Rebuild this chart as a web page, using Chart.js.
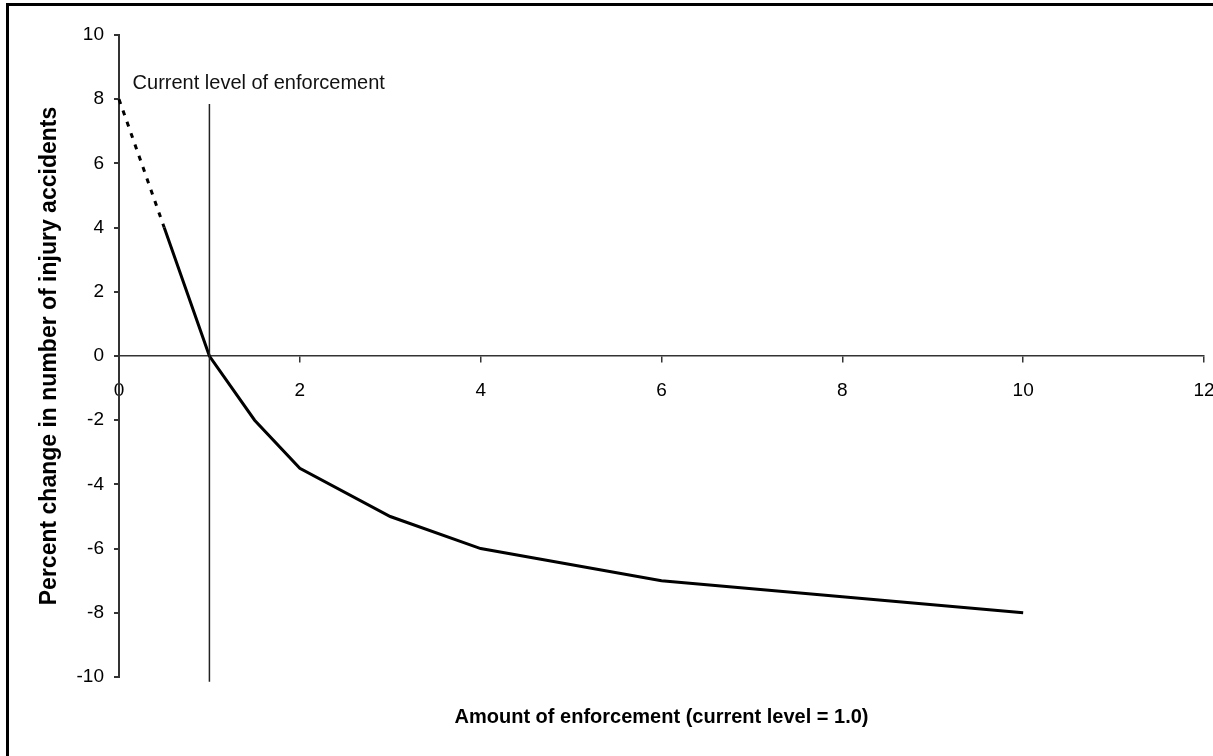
<!DOCTYPE html>
<html>
<head>
<meta charset="utf-8">
<script src="https://cdn.jsdelivr.net/npm/chart.js@4/dist/chart.umd.min.js"></script>
<style>
  html, body { margin: 0; padding: 0; background: #fff; }
  #wrap { position: relative; width: 1213px; height: 756px; overflow: hidden; }
  #chart { position: absolute; left: 0; top: 0; }
  #frame { position: absolute; left: 6px; top: 3px; right: -10px; bottom: -10px;
           border-top: 3px solid #000; border-left: 3px solid #000; pointer-events: none; }
</style>
</head>
<body>
<div id="wrap">
  <canvas id="chart" width="1213" height="756"></canvas>
  <div id="frame"></div>
</div>
<script>
// extrapolated part of the curve (dashed)
const dashX = [0, 0.5];
const dashY = [8, 4];
// estimated curve (solid)
const curveX = [0.5, 1, 1.5, 2, 3, 4, 6, 8, 10];
const curveY = [4, 0, -2, -3.5, -5, -6, -7, -7.5, -8];
// marker line for current level of enforcement
const markerX = [1, 1];
const markerY = [7.85, -10.15];
const markerLabel = 'Current level of enforcement';
const markerLabelAt = { x: 0.15, y: 8.5 };

const xTitle = 'Amount of enforcement (current level = 1.0)';
const yTitle = 'Percent change in number of injury accidents';

const FONT = "'Liberation Sans', Arial, sans-serif";

const toPoints = (xs, ys) => xs.map((x, i) => ({ x: x, y: ys[i] }));

// draws the text next to the marker line
const markerText = {
  id: 'markerText',
  afterDatasetsDraw(chart) {
    const ctx = chart.ctx;
    const xs = chart.scales.x, ys = chart.scales.y;
    ctx.save();
    ctx.font = '20px ' + FONT;
    ctx.fillStyle = '#111';
    ctx.textAlign = 'left';
    ctx.textBaseline = 'middle';
    ctx.fillText(markerLabel, xs.getPixelForValue(markerLabelAt.x), ys.getPixelForValue(markerLabelAt.y));
    ctx.restore();
  }
};

new Chart(document.getElementById('chart').getContext('2d'), {
  type: 'scatter',
  data: {
    datasets: [
      {
        data: toPoints(markerX, markerY),
        showLine: true,
        borderColor: '#222',
        borderWidth: 1.5,
        pointRadius: 0,
        clip: false
      },
      {
        data: toPoints(dashX, dashY),
        showLine: true,
        borderColor: '#000',
        borderWidth: 3,
        borderDash: [5, 7],
        pointRadius: 0,
        clip: false
      },
      {
        data: toPoints(curveX, curveY),
        showLine: true,
        borderColor: '#000',
        borderWidth: 3,
        pointRadius: 0,
        clip: false
      }
    ]
  },
  options: {
    responsive: false,
    animation: false,
    layout: { padding: { top: 35, right: 9, bottom: 0, left: 0 } },
    plugins: {
      legend: { display: false },
      tooltip: { enabled: false },
      title: {
        display: true,
        text: xTitle,
        position: 'bottom',
        fullSize: false,
        color: '#000',
        font: { family: FONT, size: 20, weight: 'bold' },
        padding: { top: 28, bottom: 27 }
      }
    },
    scales: {
      x: {
        type: 'linear',
        min: 0,
        max: 12,
        position: { y: 0 },
        ticks: {
          stepSize: 2,
          padding: 17,
          color: '#000',
          font: { family: FONT, size: 19 }
        },
        grid: { drawOnChartArea: false, drawTicks: true, tickLength: 6, color: '#333', lineWidth: 1.5 },
        border: { display: true, color: '#333', width: 1.5 },
        // the label padding would otherwise push the right edge in
        afterFit(scale) { scale.paddingLeft = 0; scale.paddingRight = 9; }
      },
      y: {
        type: 'linear',
        min: -10,
        max: 10,
        position: 'left',
        ticks: {
          stepSize: 2,
          padding: 10,
          color: '#000',
          font: { family: FONT, size: 19 }
        },
        grid: { drawOnChartArea: false, drawTicks: true, tickLength: 5, color: '#333', lineWidth: 2 },
        border: { display: true, color: '#333', width: 2 },
        title: {
          display: true,
          text: yTitle,
          color: '#000',
          font: { family: FONT, size: 23, weight: 'bold' },
          padding: { top: 36, bottom: 0 }
        },
        afterFit(scale) { scale.width = 119; }
      }
    }
  },
  plugins: [markerText]
});
</script>
</body>
</html>
